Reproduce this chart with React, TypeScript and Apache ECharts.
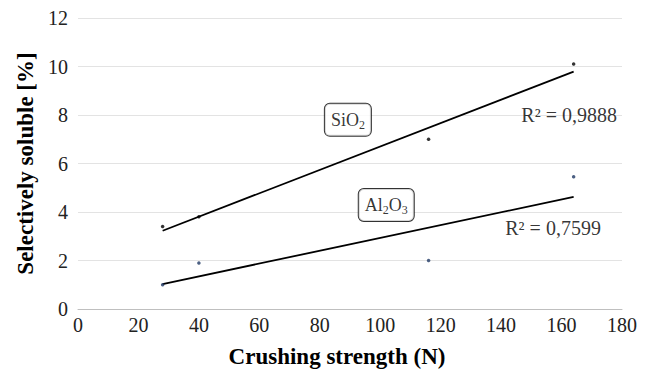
import React, { useEffect, useRef } from "react";
import * as echarts from "echarts";

const strength = [28, 40, 116, 164];
const sio2 = [3.4, 3.8, 7.0, 10.1];
const al2o3 = [1.0, 1.9, 2.0, 5.45];
const r2Labels = ["R² = 0,9888", "R² = 0,7599"];
// annotation anchor positions in data coords
const sio2BoxAt = [89.3, 7.8];
const al2o3BoxAt = [102, 4.29];
const r2SiAt = [162.5, 8.0];
const r2AlAt = [157.2, 3.34];

function fit(xs: number[], ys: number[]) {
  const n = xs.length;
  const mx = xs.reduce((a, b) => a + b, 0) / n;
  const my = ys.reduce((a, b) => a + b, 0) / n;
  let sxy = 0, sxx = 0;
  for (let i = 0; i < n; i++) {
    sxy += (xs[i] - mx) * (ys[i] - my);
    sxx += (xs[i] - mx) ** 2;
  }
  const k = sxy / sxx;
  const b = my - k * mx;
  const x0 = Math.min(...xs), x1 = Math.max(...xs);
  return [[x0, k * x0 + b], [x1, k * x1 + b]];
}

const FONT = "Liberation Serif";

export default function App() {
  const ref = useRef<HTMLDivElement>(null);
  useEffect(() => {
    const chart = echarts.init(ref.current!, undefined, { renderer: "svg" });
    const boxLabel = (fmt: string) => ({
      show: true,
      position: "inside",
      formatter: fmt,
      backgroundColor: "#fff",
      borderColor: "#000",
      borderWidth: 1,
      borderRadius: 5,
      padding: [4, 6, 4, 6],
      rich: {
        a: { fontFamily: FONT, fontSize: 18, color: "#000", lineHeight: 24, verticalAlign: "middle" },
        s: { fontFamily: FONT, fontSize: 12, color: "#000", lineHeight: 24, padding: [10, 0, 0, 0], verticalAlign: "middle" },
      },
    });
    const textLabel = (t: string) => ({
      show: true,
      position: "inside",
      formatter: t,
      fontFamily: FONT,
      fontSize: 20,
      color: "#000",
    });
    chart.setOption({
      animation: false,
      grid: { left: 78, right: 25, top: 18, bottom: 65 },
      xAxis: {
        type: "value",
        min: 0,
        max: 180,
        interval: 20,
        name: "Crushing strength (N)",
        nameLocation: "middle",
        nameGap: 36,
        nameTextStyle: { fontFamily: FONT, fontSize: 23, fontWeight: "bold", color: "#000", padding: [0, 26, 0, 0] },
        axisLine: { show: true, lineStyle: { color: "#bfbfbf", width: 1 } },
        axisTick: { show: false },
        splitLine: { show: false },
        axisLabel: { fontFamily: FONT, fontSize: 20, color: "#222", margin: 6 },
      },
      yAxis: {
        type: "value",
        min: 0,
        max: 12,
        interval: 2,
        name: "Selectively soluble [%]",
        nameLocation: "middle",
        nameGap: 40,
        nameTextStyle: { fontFamily: FONT, fontSize: 23, fontWeight: "bold", color: "#000" },
        axisLine: { show: false },
        axisTick: { show: false },
        splitLine: { show: true, lineStyle: { color: "#e3e3e3", width: 1 } },
        axisLabel: { fontFamily: FONT, fontSize: 20, color: "#222", margin: 10 },
      },
      series: [
        { type: "line", data: fit(strength, sio2), symbol: "none", lineStyle: { color: "#000", width: 1.8 }, z: 2 },
        { type: "line", data: fit(strength, al2o3), symbol: "none", lineStyle: { color: "#000", width: 1.8 }, z: 2 },
        { type: "scatter", data: strength.map((x, i) => [x, sio2[i]]), symbolSize: 3.5, itemStyle: { color: "#000" }, z: 3 },
        { type: "scatter", data: strength.map((x, i) => [x, al2o3[i]]), symbolSize: 3.5, itemStyle: { color: "#1f3864" }, z: 3 },
        {
          type: "scatter",
          symbolSize: 0,
          silent: true,
          z: 5,
          data: [
            { value: sio2BoxAt, label: boxLabel("{a|SiO}{s|2}") },
            { value: al2o3BoxAt, label: boxLabel("{a|Al}{s|2}{a|O}{s|3}") },
            { value: r2SiAt, label: textLabel(r2Labels[0]) },
            { value: r2AlAt, label: textLabel(r2Labels[1]) },
          ],
        },
      ],
    });
    return () => chart.dispose();
  }, []);
  return <div ref={ref} style={{ width: 647, height: 374, position: "absolute", left: 0, top: 0, background: "#fff" }} />;
}
